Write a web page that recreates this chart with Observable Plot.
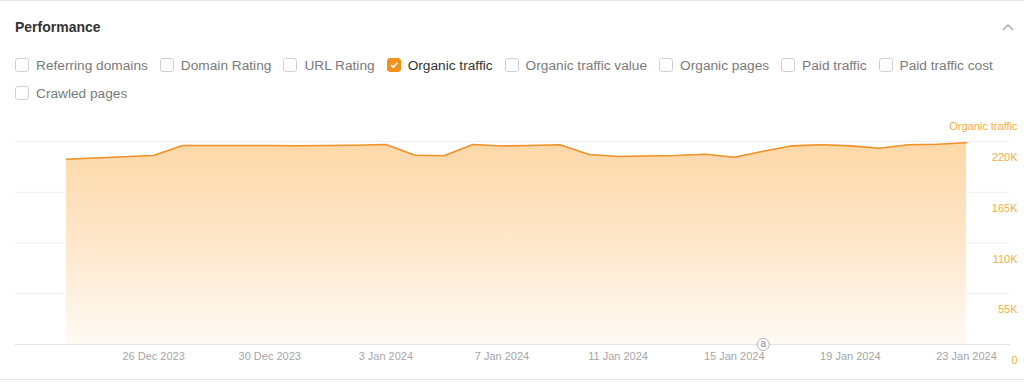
<!DOCTYPE html>
<html><head><meta charset="utf-8">
<script src="https://cdn.jsdelivr.net/npm/d3@7"></script>
<script src="https://cdn.jsdelivr.net/npm/@observablehq/plot@0.6"></script>
<style>
body{margin:0;background:#fff;font-family:"Liberation Sans",Arial,sans-serif;}
#wrap{position:relative;width:1024px;height:387px;overflow:hidden;background:#fff}
.hline{position:absolute;left:0;width:1024px;height:1px;background:#e6e6e6}
.title{position:absolute;left:15px;top:19px;font-size:14px;font-weight:bold;color:#333}
.chev{position:absolute;left:1001px;top:22px}
.row{position:absolute;left:15px;display:flex;align-items:center;font-size:13.7px;color:#7a7a7a;white-space:nowrap;height:16px}
.item{display:flex;align-items:center;margin-right:12px}
.box{width:14px;height:14px;border:1px solid #cfcfcf;border-radius:3px;margin-right:7px;box-sizing:border-box;display:flex;align-items:center;justify-content:center}
.box.on{background:#f5901e;border-color:#f5901e}
.item.on{color:#333}
#chart{position:absolute;left:0;top:110px}
</style></head>
<body><div id="wrap">
<div class="hline" style="top:0"></div>
<div class="title">Performance</div>
<svg class="chev" width="14" height="10"><polyline points="2,8 7,3 12,8" fill="none" stroke="#aaa" stroke-width="1.5"/></svg>
<div class="row" id="row1" style="top:57px"></div>
<div class="row" id="row2" style="top:85px"></div>
<div id="chart"></div>
<div class="hline" style="top:379px"></div>
</div>
<script>
const metricsRow1 = ["Referring domains","Domain Rating","URL Rating","Organic traffic","Organic traffic value","Organic pages","Paid traffic","Paid traffic cost"];
const metricsRow2 = ["Crawled pages"];
const checkedMetric = "Organic traffic";

const dates = ["2023-12-23","2023-12-24","2023-12-25","2023-12-26","2023-12-27","2023-12-28","2023-12-29","2023-12-30","2023-12-31",
  "2024-01-01","2024-01-02","2024-01-03","2024-01-04","2024-01-05","2024-01-06","2024-01-07","2024-01-08","2024-01-09","2024-01-10",
  "2024-01-11","2024-01-12","2024-01-13","2024-01-14","2024-01-15","2024-01-16","2024-01-17","2024-01-18","2024-01-19","2024-01-20",
  "2024-01-21","2024-01-22","2024-01-23"];
const organicTraffic = [200800,202100,203500,204800,215700,215700,215700,215700,215400,
  215700,215900,216700,205100,204500,216700,215100,215700,216400,205900,
  203700,204300,204800,206200,203000,209500,215300,216400,215300,212700,
  216400,217000,218600];
const xTicks = ["2023-12-26","2023-12-30","2024-01-03","2024-01-07","2024-01-11","2024-01-15","2024-01-19","2024-01-23"];
const yTicks = [0,55000,110000,165000,220000];
const yTickLabels = ["0","55K","110K","165K","220K"];
const annotations = [{date:"2024-01-16", label:"a"}];

function addRow(el, items){
  for(const m of items){
    const it=document.createElement("div"); it.className="item"+(m===checkedMetric?" on":"");
    const b=document.createElement("div"); b.className="box"+(m===checkedMetric?" on":"");
    if(m===checkedMetric) b.innerHTML='<svg width="10" height="10"><polyline points="2,5 4.3,7.3 8.3,2.8" fill="none" stroke="#fff" stroke-width="1.6"/></svg>';
    const t=document.createElement("span"); t.textContent=m;
    it.appendChild(b); it.appendChild(t); el.appendChild(it);
  }
}
addRow(document.getElementById("row1"), metricsRow1);
addRow(document.getElementById("row2"), metricsRow2);

const parse = d3.utcParse("%Y-%m-%d");
const data = dates.map((d,i)=>({date:parse(d), value:organicTraffic[i]}));
const tickDates = xTicks.map(parse);
const ann = annotations.map(a=>({date:parse(a.date), label:a.label}));
const fmt = d3.utcFormat("%-d %b %Y");
const tickLab = new Map(yTicks.map((v,i)=>[v,yTickLabels[i]]));

const plot = Plot.plot({
  width:1024, height:270,
  marginLeft:15, marginRight:14, marginTop:31, marginBottom:36,
  style:{fontFamily:"'Liberation Sans',Arial,sans-serif", background:"transparent"},
  x:{type:"utc", domain:[data[0].date, data[data.length-1].date], range:[66,966], axis:null},
  y:{domain:[0,220000], axis:null},
  marks:[
    () => { const s=d3.create("svg:defs"); const g=s.append("linearGradient").attr("id","og").attr("x1",0).attr("y1",0).attr("x2",0).attr("y2",1);
      g.append("stop").attr("offset","0").attr("stop-color","#fdd8a8");
      g.append("stop").attr("offset","0.5").attr("stop-color","#fee7cb");
      g.append("stop").attr("offset","1").attr("stop-color","#fffaf5");
      return s.node(); },
    Plot.ruleY(yTicks, {stroke:d=>d===0?"#e3e3e3":"#eeeeee", strokeWidth:1}),
    Plot.areaY(data, {x:"date", y:"value", fill:"url(#og)"}),
    Plot.lineY(data, {x:"date", y:"value", stroke:"#ef9128", strokeWidth:1.6}),
    Plot.text(tickDates, {x:d=>d, text:d=>fmt(d), frameAnchor:"bottom", dy:15, fill:"#a6a6a6", fontSize:11}),
    Plot.text(yTicks, {y:d=>d, text:d=>tickLab.get(d), frameAnchor:"right", textAnchor:"end", dx:7, dy:16, fill:"#f2ae45", fontSize:11}),
    Plot.text(["Organic traffic"], {y:220000, text:d=>d, frameAnchor:"right", textAnchor:"end", dx:7, dy:-15, fill:"#f2ae45", fontSize:11}),
    Plot.dot(ann, {x:"date", y:0, r:6, fill:"white", stroke:"#b5b5b5", strokeWidth:1}),
    Plot.text(ann, {x:"date", y:0, text:"label", fill:"#888", fontSize:10, dy:-1})
  ]
});
document.getElementById("chart").appendChild(plot);
</script>
</body></html>
